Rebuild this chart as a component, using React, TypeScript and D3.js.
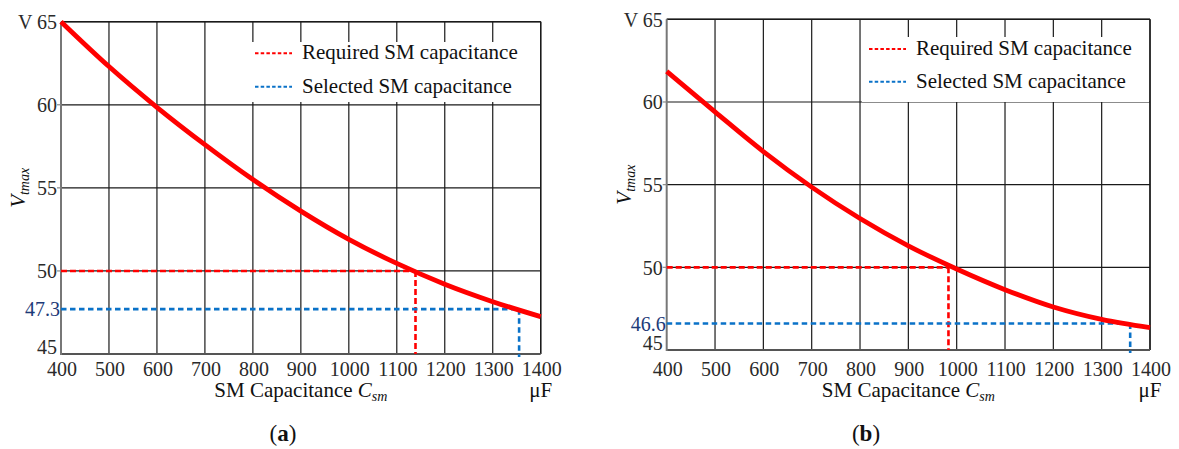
import React from "react";
import * as d3 from "d3";

// ---------- data ----------
const capacitance = [400, 500, 600, 700, 800, 900, 1000, 1100, 1200, 1300, 1400];
const vmaxA = [65, 62.3, 59.85, 57.6, 55.5, 53.6, 51.9, 50.45, 49.2, 48.15, 47.25];
const vmaxB = [61.85, 59.4, 57.0, 54.85, 52.95, 51.3, 49.9, 48.65, 47.6, 46.85, 46.35];
const yTicks = [45, 50, 55, 60, 65];
const xTicks = [400, 500, 600, 700, 800, 900, 1000, 1100, 1200, 1300, 1400];
const requiredA = { cap: 1139, v: 50 };
const selectedA = { cap: 1355, v: 47.7, label: "47.3" };
const requiredB = { cap: 983, v: 50 };
const selectedB = { cap: 1359, v: 46.6, label: "46.6" };
const legendLabels = ["Required SM capacitance", "Selected SM capacitance"];
const captions = ["a", "b"];

// ---------- layout ----------
const panels = [
  {
    values: vmaxA, required: requiredA, selected: selectedA, caption: captions[0],
    left: 61, right: 540.7, top: 21.7, bottom: 354, xTickDy: 22, titleDy: 43,
    legend: { x: 245, y: 42, h: 60, dashX: 255, row1: 53.3, row2: 86.7 }, capX: 283,
  },
  {
    values: vmaxB, required: requiredB, selected: selectedB, caption: captions[1],
    left: 666.7, right: 1150, top: 19.3, bottom: 350, xTickDy: 26, titleDy: 47,
    legend: { x: 862, y: 37, h: 65, dashX: 869, row1: 49, row2: 81.7 }, capX: 866,
  },
];

const FONT = "'Liberation Serif', 'Times New Roman', serif";
const RED = "#ff0000";
const BLUE = "#0a72c8";
const NAVY = "#1d3a78";
const TXT = "#2a2a2a";

function Panel({ p }: { p: any }) {
  const x = d3.scaleLinear().domain([400, 1400]).range([p.left, p.right]);
  const y = d3.scaleLinear().domain([45, 65]).range([p.bottom, p.top]);
  const line = d3
    .line<number>()
    .x((_, i) => x(capacitance[i]))
    .y((d) => y(d))
    .curve(d3.curveMonotoneX);
  const lg = p.legend;
  const midY = (p.top + p.bottom) / 2;
  const midX = (p.left + p.right) / 2;
  return (
    <g fontFamily={FONT}>
      {/* grid */}
      {xTicks.slice(1).map((t) => (
        <line key={"gx" + t} x1={x(t)} x2={x(t)} y1={p.top} y2={p.bottom} stroke="#1a1a1a" strokeWidth={1.2} />
      ))}
      {yTicks.slice(1).map((t) => (
        <line key={"gy" + t} x1={p.left} x2={p.right} y1={y(t)} y2={y(t)} stroke="#1a1a1a" strokeWidth={1.2} />
      ))}
      {/* legend box (white, hides grid) */}
      <rect x={lg.x} y={lg.y} width={p.right - 1 - lg.x} height={lg.h} fill="#fff" />
      <line x1={lg.dashX} x2={lg.dashX + 37} y1={lg.row1} y2={lg.row1} stroke={RED} strokeWidth={2} strokeDasharray="3.5 2.2" />
      <line x1={lg.dashX} x2={lg.dashX + 37} y1={lg.row2} y2={lg.row2} stroke={BLUE} strokeWidth={2} strokeDasharray="3.5 2.2" />
      <text x={lg.dashX + 47} y={lg.row1 + 6} fontSize={21} fill="#111">{legendLabels[0]}</text>
      <text x={lg.dashX + 47} y={lg.row2 + 6} fontSize={21} fill="#111">{legendLabels[1]}</text>
      {/* axes */}
      <line x1={p.left} x2={p.right} y1={p.top} y2={p.top} stroke="#1a1a1a" strokeWidth={1.4} />
      <line x1={p.right} x2={p.right} y1={p.top} y2={p.bottom} stroke="#1a1a1a" strokeWidth={1.4} />
      <line x1={p.left} x2={p.right} y1={p.bottom} y2={p.bottom} stroke="#555" strokeWidth={2} />
      <line x1={p.left} x2={p.left} y1={p.top} y2={p.bottom + 1} stroke="#777" strokeWidth={2} />
      {yTicks.slice(1, -1).map((t) => (
        <line key={"ty" + t} x1={p.left - 4} x2={p.left} y1={y(t)} y2={y(t)} stroke="#888" strokeWidth={1.2} />
      ))}
      {/* reference dashed lines */}
      <line x1={p.left} x2={x(p.required.cap)} y1={y(p.required.v)} y2={y(p.required.v)} stroke={RED} strokeWidth={2.6} strokeDasharray="6 3" />
      <line x1={x(p.required.cap)} x2={x(p.required.cap)} y1={y(p.required.v)} y2={p.bottom} stroke={RED} strokeWidth={2.6} strokeDasharray="6 3" />
      <line x1={p.left} x2={x(p.selected.cap)} y1={y(p.selected.v)} y2={y(p.selected.v)} stroke={BLUE} strokeWidth={2.6} strokeDasharray="5.5 3.5" />
      <line x1={x(p.selected.cap)} x2={x(p.selected.cap)} y1={y(p.selected.v)} y2={p.bottom + 3} stroke={BLUE} strokeWidth={2.6} strokeDasharray="5.5 3.5" />
      {/* curve */}
      <path d={line(p.values) || ""} fill="none" stroke={RED} strokeWidth={4.8} />
      {/* y tick labels */}
      {yTicks.map((t, i) => (
        <text key={"ly" + t} x={p.left - 4} y={y(t)} dy={i === 0 ? "0" : "0.36em"} textAnchor="end" fontSize={20} fill={TXT}>{t}</text>
      ))}
      <text x={p.left - 43} y={p.top} dy="0.36em" fontSize={20} fill={TXT}>V</text>
      <text x={p.left - 1} y={y(p.selected.v)} dy="0.36em" textAnchor="end" fontSize={20} fill={NAVY}>{p.selected.label}</text>
      {/* x tick labels */}
      {xTicks.map((t) => (
        <text key={"lx" + t} x={x(t) + 1} y={p.bottom + p.xTickDy} textAnchor="middle" fontSize={20} fill={TXT}>{t}</text>
      ))}
      {/* axis titles */}
      <text x={midX} y={p.bottom + p.titleDy} textAnchor="middle" fontSize={21} fill="#111">
        SM Capacitance <tspan fontStyle="italic">C</tspan>
        <tspan fontStyle="italic" fontSize={14} dy={4}>sm</tspan>
      </text>
      <text x={p.right} y={p.bottom + p.titleDy} textAnchor="middle" fontSize={21} fill="#111">μF</text>
      <text transform={`translate(${p.left - 36},${midY}) rotate(-90)`} textAnchor="middle" fontSize={21} fill="#111">
        <tspan fontStyle="italic">V</tspan>
        <tspan fontStyle="italic" fontSize={14} dy={4}>tmax</tspan>
      </text>
      {/* caption */}
      <text x={p.capX} y={441} textAnchor="middle" fontSize={23} fill="#111">
        (<tspan fontWeight="bold">{p.caption}</tspan>)
      </text>
    </g>
  );
}

export default function App() {
  return (
    <svg width={1179} height={449} style={{ position: "absolute", left: 0, top: 0, background: "#fff" }}>
      <rect width={1179} height={449} fill="#fff" />
      {panels.map((p, i) => (
        <Panel key={i} p={p} />
      ))}
    </svg>
  );
}
